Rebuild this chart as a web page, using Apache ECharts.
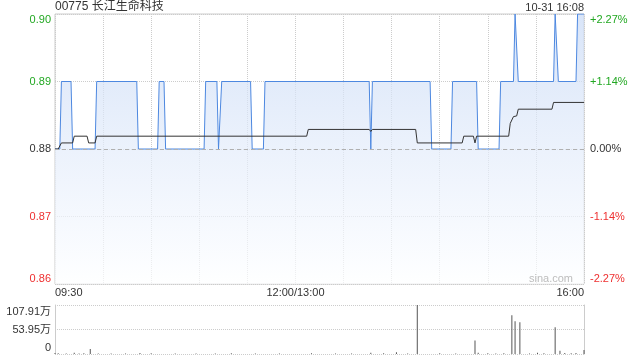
<!DOCTYPE html>
<html>
<head>
<meta charset="utf-8">
<script src="https://cdn.jsdelivr.net/npm/echarts@6/dist/echarts.min.js"></script>
<style>html,body{margin:0;padding:0;background:#fff;}#c{width:640px;height:360px;}</style>
</head>
<body>
<div id="c"></div>
<script>
// ---- data ----
const titleText = '00775 长江生命科技';
const stampText = '10-31 16:08';
const prevClose = 0.88;
// x = trading minute since 09:30 (lunch break removed), 0..330
const timeTicks = {0: '09:30', 150: '12:00/13:00', 330: '16:00'};
const priceTickLabels = ['0.86', '0.87', '0.88', '0.89', '0.90'];
const pctTickLabels = ['-2.27%', '-1.14%', '0.00%', '+1.14%', '+2.27%'];
const volTickLabels = ['0', '53.95万', '107.91万'];
// price (minute, value)
const priceLine = [[0,0.88],[3,0.88],[4,0.89],[10,0.89],[11,0.88],[25,0.88],[26,0.89],[51,0.89],[52,0.88],
  [64,0.88],[65,0.89],[68,0.89],[69,0.88],[93,0.88],[94,0.89],[101,0.89],[102,0.88],[103,0.88],[104,0.89],
  [122,0.89],[123,0.88],[130,0.88],[131,0.89],[196,0.89],[197,0.88],[198,0.89],[234,0.89],[235,0.88],
  [247,0.88],[248,0.89],[263,0.89],[264,0.88],[277,0.88],[278,0.89],[286,0.89],[287,0.90],[288,0.90],
  [289,0.89],[311,0.89],[312,0.90],[313,0.90],[314,0.89],[325,0.89],[326,0.90],[330,0.90]];
// average price (minute, value)
const avgLine = [[0,0.88],[2,0.88],[4,0.8809],[11,0.8809],[12,0.8819],[20,0.8819],[21,0.8809],[25,0.8809],
  [26,0.8819],[157,0.8819],[158,0.8829],[196,0.8829],[197,0.8826],[198,0.8829],[225,0.8829],[226,0.8809],
  [254,0.8809],[255,0.8819],[261,0.8819],[262,0.8809],[263,0.8819],[283,0.8819],[284,0.8838],[285,0.8840],
  [286,0.8848],[288,0.8849],[289,0.8859],[310,0.8859],[311,0.8869],[330,0.8869]];
// volume (minute, 万股)
const volMinutes = [0,2,7,12,15,18,22,27,35,44,53,60,75,88,100,110,125,140,160,175,185,197,205,213,220,226,
  240,250,262,264,270,275,280,285,287,290,296,301,305,312,315,318,322,325,330];
const volValues = [2,1.5,1,3,1,1.5,11,1,1,1,2,1.5,1,1,1,1.5,1,1,1.5,1,1,3,1.5,4,1,107.91,
  1.5,1,29.7,3,1.5,1,1.5,85.6,72.2,70,1,3,1.5,58.8,7,2,1.5,2,9];

// ---- chart ----
const FONT = '"Liberation Sans", Arial, "Noto Sans CJK SC", sans-serif';
const GREEN = '#22a822', RED = '#ee3030', DARK = '#333333';
const chart = echarts.init(document.getElementById('c'), null, {renderer: 'canvas'});
const tickIdx = v => Math.round((v - 0.86) * 100);
const colorKey = i => i > 2 ? 'g' : (i < 2 ? 'r' : 'k');
const richY = {
  g: {color: GREEN, fontSize: 11, fontFamily: FONT},
  gt: {color: GREEN, fontSize: 11, fontFamily: FONT, padding: [12, 0, 0, 0]},
  k: {color: DARK, fontSize: 11, fontFamily: FONT},
  r: {color: RED, fontSize: 11, fontFamily: FONT},
  rb: {color: RED, fontSize: 11, fontFamily: FONT, padding: [0, 0, 11, 0]}
};
function yFmt(labels) {
  return function (v) {
    const i = tickIdx(v);
    let key = colorKey(i);
    if (i === 4) key = 'gt';
    if (i === 0) key = 'rb';
    return '{' + key + '|' + labels[i] + '}';
  };
}
const volData = volMinutes.map((m, i) => [m, volValues[i]]);

const option = {
  animation: false,
  textStyle: {fontFamily: FONT},
  title: [
    {text: titleText, left: 55, top: 1, padding: 0,
     textStyle: {fontSize: 12, fontWeight: 'normal', color: DARK, fontFamily: FONT}},
    {text: stampText, right: 56, top: 2, padding: 0,
     textStyle: {fontSize: 11, fontWeight: 'normal', color: DARK, fontFamily: FONT}}
  ],
  graphic: [{type: 'text', right: 67, top: 273, silent: true, z: 100,
    style: {text: 'sina.com', fill: '#bdbdbd', font: '11px ' + FONT}}],
  grid: [
    {left: 55, right: 56, top: 14, height: 270, show: true, borderColor: '#cccccc', borderWidth: 1},
    {left: 55, right: 56, top: 305, height: 49}
  ],
  xAxis: [
    {type: 'value', gridIndex: 0, min: 0, max: 330, interval: 30,
     axisLine: {show: false}, axisTick: {show: false},
     axisLabel: {show: true, margin: 3, fontSize: 11, color: DARK, fontFamily: FONT,
       showMinLabel: true, showMaxLabel: true, alignMinLabel: 'left', alignMaxLabel: 'right',
       formatter: v => timeTicks[v] || ''},
     splitLine: {show: true, lineStyle: {type: 'dotted', color: '#cccccc', width: 1}}},
    {type: 'value', gridIndex: 1, min: 0, max: 330, show: false}
  ],
  yAxis: [
    {type: 'value', gridIndex: 0, min: 0.86, max: 0.90, interval: 0.01, position: 'left',
     axisLine: {show: false}, axisTick: {show: false},
     axisLabel: {margin: 4, formatter: yFmt(priceTickLabels), rich: richY},
     splitLine: {show: true, lineStyle: {type: 'dotted', color: '#cccccc', width: 1}}},
    {type: 'value', gridIndex: 0, min: 0.86, max: 0.90, interval: 0.01, position: 'right',
     axisLine: {show: false}, axisTick: {show: false},
     axisLabel: {margin: 6, formatter: yFmt(pctTickLabels), rich: richY},
     splitLine: {show: false}},
    {type: 'value', gridIndex: 1, min: 0, max: 107.91, interval: 53.955, position: 'left',
     axisLine: {show: true, lineStyle: {color: '#cccccc'}}, axisTick: {show: false},
     axisLabel: {margin: 4, fontSize: 11, color: DARK,
       formatter: v => {
         const i = Math.round(v / 53.955);
         const key = i === 2 ? 't' : (i === 0 ? 'b' : 'm');
         return '{' + key + '|' + volTickLabels[i] + '}';
       },
       rich: {
         t: {color: DARK, fontSize: 11, fontFamily: FONT, padding: [14, 0, 0, 0]},
         m: {color: DARK, fontSize: 11, fontFamily: FONT},
         b: {color: DARK, fontSize: 11, fontFamily: FONT, padding: [0, 0, 13, 0]}
       }},
     splitLine: {show: true, lineStyle: {type: 'dotted', color: '#cccccc', width: 1}}},
    {type: 'value', gridIndex: 1, min: 0, max: 107.91, position: 'right',
     axisLine: {show: true, lineStyle: {color: '#cccccc'}}, axisTick: {show: false},
     axisLabel: {show: false}, splitLine: {show: false}}
  ],
  series: [
    {type: 'line', xAxisIndex: 0, yAxisIndex: 0, data: priceLine, symbol: 'none', silent: true,
     lineStyle: {color: '#4d88e0', width: 1},
     areaStyle: {color: new echarts.graphic.LinearGradient(0, 0, 0, 1, [
       {offset: 0, color: '#c8d9f5'}, {offset: 1, color: '#fdfeff'}])}},
    {type: 'line', xAxisIndex: 0, yAxisIndex: 0, data: avgLine, symbol: 'none', silent: true,
     lineStyle: {color: '#333333', width: 1},
     markLine: {silent: true, symbol: 'none', label: {show: false},
       lineStyle: {type: [4, 3], color: '#b0b0b0', width: 1},
       data: [{yAxis: prevClose}]}},
    {type: 'bar', xAxisIndex: 1, yAxisIndex: 2, data: volData, barWidth: 1, silent: true,
     itemStyle: {color: '#555555'}}
  ]
};
chart.setOption(option);
</script>
</body>
</html>
